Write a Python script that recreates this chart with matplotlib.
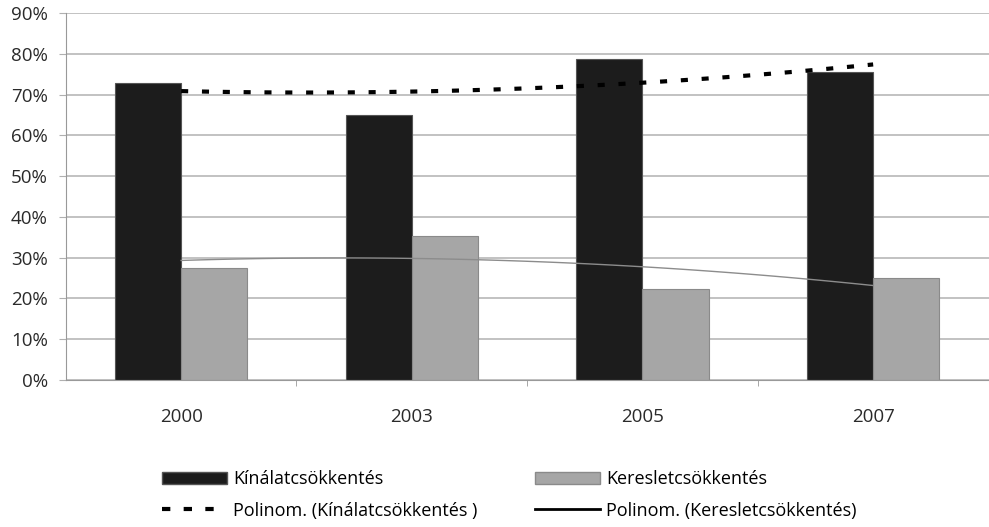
import matplotlib.pyplot as plt
import numpy as np
from matplotlib.lines import Line2D
from matplotlib.patches import Patch

plt.rcParams['font.family'] = ['Open Sans', 'DejaVu Sans']

years = ['2000', '2003', '2005', '2007']
kinalat = [72.8, 65.0, 78.7, 75.5]   # Kínálatcsökkentés, %
kereslet = [27.5, 35.3, 22.3, 25.0]  # Keresletcsökkentés, %

x = np.arange(len(years))
w = 0.287
fs = 13

fig = plt.figure(figsize=(9.89, 5.27), dpi=100)
ax = fig.add_axes([0.0665, 0.279, 0.933, 0.696])

ax.bar(x - w/2, kinalat, w, color='#1c1c1c', edgecolor='#555555', linewidth=0.8, zorder=2)
ax.bar(x + w/2, kereslet, w, color='#a6a6a6', edgecolor='#8a8a8a', linewidth=0.8, zorder=2)

# 2nd order polynomial trendlines (like Excel), first to last category
xs = np.linspace(0, 3, 100)
p1 = np.polyfit(x, kinalat, 2)
p2 = np.polyfit(x, kereslet, 2)
ax.plot(xs, np.polyval(p1, xs), color='black', lw=3, dashes=(1.7, 3.3), zorder=3)
ax.plot(xs, np.polyval(p2, xs), color='#8c8c8c', lw=1, zorder=3)

ax.set_xlim(-0.5, 3.5)
ax.set_ylim(0, 90)
ax.set_yticks(np.arange(0, 91, 10))
ax.set_yticklabels([f'{v}%' for v in range(0, 91, 10)], fontsize=13.5, color='#2a2a2a')
ax.set_xticks(x)
ax.set_xticklabels(years, fontsize=13.5, color='#2a2a2a')
ax.tick_params(axis='x', length=0, pad=20)
ax.set_xticks(np.arange(0.5, 3.5, 1), minor=True)
ax.tick_params(axis='x', which='minor', length=4, color='#999999')
ax.tick_params(axis='y', length=5, color='#b0b0b0', pad=8)
ax.yaxis.grid(True, color='#b8b8b8', lw=1.2, zorder=0)
ax.set_axisbelow(True)
for s in ['top', 'right']:
    ax.spines[s].set_visible(False)
ax.spines['left'].set_color('#999999')
ax.spines['bottom'].set_color('#999999')

h1 = [Patch(facecolor='#1c1c1c', edgecolor='#555555'),
      Line2D([], [], color='black', lw=3, dashes=(2.0, 3.2))]
l1 = ['Kínálatcsökkentés', 'Polinom. (Kínálatcsökkentés )']
h2 = [Patch(facecolor='#a6a6a6', edgecolor='#8a8a8a'),
      Line2D([], [], color='black', lw=2)]
l2 = ['Keresletcsökkentés', 'Polinom. (Keresletcsökkentés)']
opts = dict(loc='center left', frameon=False, fontsize=fs, handlelength=3.6,
            handletextpad=0.35, labelspacing=0.75, borderpad=0, borderaxespad=0)
fig.legend(h1, l1, bbox_to_anchor=(162/989, 1 - 495/527), **opts)
fig.legend(h2, l2, bbox_to_anchor=(535/989, 1 - 495/527), **opts)

fig.savefig('out.png', dpi=100)
